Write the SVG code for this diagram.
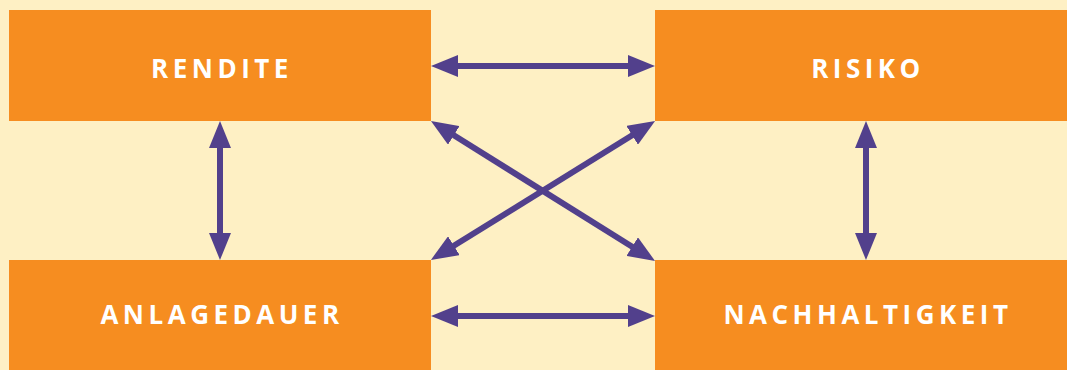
<svg xmlns="http://www.w3.org/2000/svg" width="1067" height="370" viewBox="0 0 1067 370">
<style>
.box{fill:#F68D20}
.lbl{font-family:"Open Sans","Liberation Sans",sans-serif;font-weight:700;font-size:26px;fill:#FFFFFF;letter-spacing:4.5px;text-anchor:middle}
.con{stroke:#52408C;stroke-width:6;fill:none;marker-start:url(#ah);marker-end:url(#ah)}
</style>
<defs>
<marker id="ah" viewBox="0 0 27 22" refX="1" refY="11" markerWidth="27" markerHeight="22" markerUnits="userSpaceOnUse" orient="auto-start-reverse">
<path d="M0,0 L27,11 L0,22 Z" fill="#52408C"/>
</marker>
</defs>
<rect width="1067" height="370" fill="#FEF0C4"/>
<g id="rendite"><rect class="box" x="9" y="10" width="422" height="111"/><text class="lbl" x="222" y="78">RENDITE</text></g>
<g id="risiko"><rect class="box" x="655" y="10" width="412" height="111"/><text class="lbl" x="868" y="78">RISIKO</text></g>
<g id="anlagedauer"><rect class="box" x="9" y="260" width="422" height="110"/><text class="lbl" x="222" y="324">ANLAGEDAUER</text></g>
<g id="nachhaltigkeit"><rect class="box" x="655" y="260" width="412" height="110"/><text class="lbl" x="868" y="324">NACHHALTIGKEIT</text></g>
<g id="connectors">
<line class="con" x1="457" y1="66" x2="629" y2="66"/>
<line class="con" x1="457" y1="316" x2="629" y2="316"/>
<line class="con" x1="220" y1="147" x2="220" y2="234"/>
<line class="con" x1="866" y1="147" x2="866" y2="234"/>
<line class="con" x1="453" y1="134.8" x2="633" y2="247.2"/>
<line class="con" x1="633" y1="134.8" x2="453" y2="246.2"/>
</g>
</svg>
